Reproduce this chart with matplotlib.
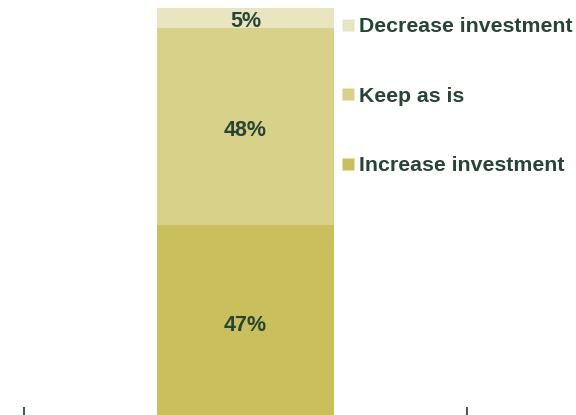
import matplotlib
matplotlib.use("Agg")
import matplotlib.pyplot as plt
from matplotlib.lines import Line2D

# Survey response shares (percent), stacked bottom to top
categories = ["Increase investment", "Keep as is", "Decrease investment"]
values = [47, 48, 5]
colors = ["#C9BF5D", "#D8D18A", "#EAE5C1"]
text_color = "#264535"

plt.rcParams["font.family"] = ["Liberation Sans", "DejaVu Sans"]
plt.rcParams["font.weight"] = "bold"

W, H = 576, 415
fig = plt.figure(figsize=(W / 100, H / 100), dpi=100)
ax = fig.add_axes([24 / W, (H - 418) / H, (467 - 24) / W, 410 / H])

bottom = 0
for cat, val, col in zip(categories, values, colors):
    ax.bar(0, val, width=0.4, bottom=bottom, color=col, edgecolor="none")
    ax.text(0, bottom + val / 2 - 0.25, f"{val}%", ha="center", va="center_baseline",
            fontsize=15.5, fontweight="bold", color=text_color)
    bottom += val

ax.set_xlim(-0.5, 0.5)
ax.set_ylim(0, 100)
ax.set_xticks([-0.5, 0.5])
ax.set_xticklabels([])
ax.set_yticks([])
ax.tick_params(axis="x", direction="in", length=8, width=1.3, color="#2F4A40")
for s in ax.spines.values():
    s.set_visible(False)

handles = [Line2D([], [], marker="s", linestyle="none", markersize=8,
                  markerfacecolor=c, markeredgecolor="none")
           for c in colors]
leg = fig.legend(handles[::-1], categories[::-1], loc="upper left",
                 bbox_to_anchor=(342 / W, 1 - 17.5 / H), frameon=False,
                 fontsize=15.3, labelspacing=2.37, handlelength=0.6,
                 handletextpad=0.22, borderaxespad=0, borderpad=0)
for t in leg.get_texts():
    t.set_color(text_color)
    t.set_fontweight("bold")

fig.savefig("out.png", dpi=100)
